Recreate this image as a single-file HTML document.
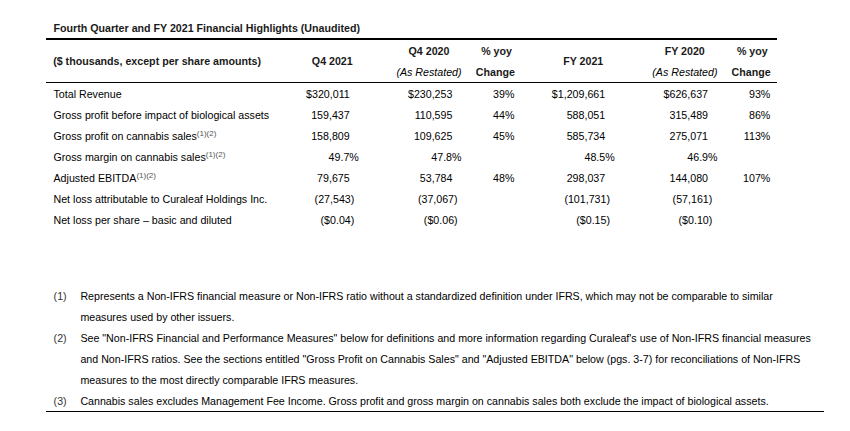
<!DOCTYPE html>
<html><head><meta charset="utf-8"><style>
html,body{margin:0;padding:0;background:#fff;}
body{width:850px;height:431px;position:relative;overflow:hidden;}
.t{position:absolute;font-family:"Liberation Sans",sans-serif;font-size:10.667px;line-height:12px;color:#000;white-space:nowrap;}
.b{font-weight:bold;color:#1a1a1a;}
.i{font-style:italic;}
.g{color:#333;}
.l{position:absolute;background:#000;}
sup{font-size:8px;vertical-align:0;position:relative;top:-4.5px;color:#555;}
</style></head><body>
<div class="l" style="left:46px;top:38px;width:731px;height:2px"></div>
<div class="l" style="left:46px;top:82px;width:731px;height:1px"></div>
<div class="l" style="left:46px;top:411px;width:778px;height:1px"></div>
<div class="t b" style="left:53.5px;top:22px">Fourth Quarter and FY 2021 Financial Highlights (Unaudited)</div>
<div class="t b" style="left:53.2px;top:55px">($ thousands, except per share amounts)</div>
<div class="t b" style="left:232.3px;width:200px;text-align:center;top:55px">Q4 2021</div>
<div class="t b" style="left:329.0px;width:200px;text-align:center;top:45px">Q4 2020</div>
<div class="t i" style="left:329.0px;width:200px;text-align:center;top:66px">(As Restated)</div>
<div class="t b" style="left:396.6px;width:200px;text-align:center;top:45px">% yoy</div>
<div class="t b" style="left:395.3px;width:200px;text-align:center;top:66px">Change</div>
<div class="t b" style="left:483.2px;width:200px;text-align:center;top:55px">FY 2021</div>
<div class="t b" style="left:584.7px;width:200px;text-align:center;top:45px">FY 2020</div>
<div class="t i" style="left:584.9px;width:200px;text-align:center;top:66px">(As Restated)</div>
<div class="t b" style="left:652.3px;width:200px;text-align:center;top:45px">% yoy</div>
<div class="t b" style="left:651.1px;width:200px;text-align:center;top:66px">Change</div>
<div class="t" style="left:53.5px;top:88px">Total Revenue</div>
<div class="t" style="right:500.3px;top:88px">$320,011</div>
<div class="t" style="right:397.6px;top:88px">$230,253</div>
<div class="t" style="right:335.6px;top:88px">39%</div>
<div class="t" style="right:244.8px;top:88px">$1,209,661</div>
<div class="t" style="right:142.0px;top:88px">$626,637</div>
<div class="t" style="right:79.7px;top:88px">93%</div>
<div class="t" style="left:53.5px;top:109px">Gross profit before impact of biological assets</div>
<div class="t" style="right:500.3px;top:109px">159,437</div>
<div class="t" style="right:397.6px;top:109px">110,595</div>
<div class="t" style="right:335.6px;top:109px">44%</div>
<div class="t" style="right:244.8px;top:109px">588,051</div>
<div class="t" style="right:142.0px;top:109px">315,489</div>
<div class="t" style="right:79.7px;top:109px">86%</div>
<div class="t" style="left:53.5px;top:130px">Gross profit on cannabis sales<sup>(1)(2)</sup></div>
<div class="t" style="right:500.3px;top:130px">158,809</div>
<div class="t" style="right:397.6px;top:130px">109,625</div>
<div class="t" style="right:335.6px;top:130px">45%</div>
<div class="t" style="right:244.8px;top:130px">585,734</div>
<div class="t" style="right:142.0px;top:130px">275,071</div>
<div class="t" style="right:79.7px;top:130px">113%</div>
<div class="t" style="left:53.5px;top:151px">Gross margin on cannabis sales<sup>(1)(2)</sup></div>
<div class="t" style="right:491.2px;top:151px">49.7%</div>
<div class="t" style="right:388.5px;top:151px">47.8%</div>
<div class="t" style="right:235.3px;top:151px">48.5%</div>
<div class="t" style="right:132.5px;top:151px">46.9%</div>
<div class="t" style="left:53.5px;top:172px">Adjusted EBITDA<sup>(1)(2)</sup></div>
<div class="t" style="right:500.3px;top:172px">79,675</div>
<div class="t" style="right:397.6px;top:172px">53,784</div>
<div class="t" style="right:335.6px;top:172px">48%</div>
<div class="t" style="right:244.8px;top:172px">298,037</div>
<div class="t" style="right:142.0px;top:172px">144,080</div>
<div class="t" style="right:79.7px;top:172px">107%</div>
<div class="t" style="left:53.5px;top:193px">Net loss attributable to Curaleaf Holdings Inc.</div>
<div class="t" style="right:495.7px;top:193px">(27,543)</div>
<div class="t" style="right:392.4px;top:193px">(37,067)</div>
<div class="t" style="right:240.0px;top:193px">(101,731)</div>
<div class="t" style="right:137.7px;top:193px">(57,161)</div>
<div class="t" style="left:53.5px;top:214px">Net loss per share &ndash; basic and diluted</div>
<div class="t" style="right:495.7px;top:214px">($0.04)</div>
<div class="t" style="right:392.4px;top:214px">($0.06)</div>
<div class="t" style="right:240.0px;top:214px">($0.15)</div>
<div class="t" style="right:137.7px;top:214px">($0.10)</div>
<div class="t g" style="left:53.6px;top:290px">(1)</div>
<div class="t" style="left:80.4px;top:290px">Represents a Non-IFRS financial measure or Non-IFRS ratio without a standardized definition under IFRS, which may not be comparable to similar</div>
<div class="t" style="left:80.4px;top:311px">measures used by other issuers.</div>
<div class="t g" style="left:53.6px;top:332px">(2)</div>
<div class="t" style="left:80.4px;top:332px">See "Non-IFRS Financial and Performance Measures" below for definitions and more information regarding Curaleaf's use of Non-IFRS financial measures</div>
<div class="t" style="left:80.4px;top:353px">and Non-IFRS ratios. See the sections entitled "Gross Profit on Cannabis Sales" and "Adjusted EBITDA" below (pgs. 3-7) for reconciliations of Non-IFRS</div>
<div class="t" style="left:80.4px;top:374px">measures to the most directly comparable IFRS measures.</div>
<div class="t g" style="left:53.6px;top:395px">(3)</div>
<div class="t" style="left:80.4px;top:395px">Cannabis sales excludes Management Fee Income. Gross profit and gross margin on cannabis sales both exclude the impact of biological assets.</div>
</body></html>
